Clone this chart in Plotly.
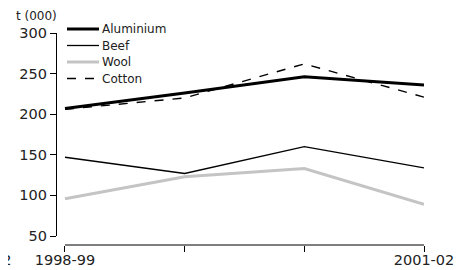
import plotly.graph_objects as go

categories = ["1998-99", "1999-00", "2000-01", "2001-02"]
tick_labels = ["1998-99", "", "", "2001-02"]
y_ticks = [50, 100, 150, 200, 250, 300]
series_names = ["Aluminium", "Beef", "Wool", "Cotton"]
aluminium = [207, 226, 246, 236]
beef = [147, 127, 160, 134]
wool = [96, 123, 133, 89]
cotton = [206, 220, 262, 221]

styles = {
    "Aluminium": dict(color="black", width=3),
    "Beef": dict(color="black", width=1.3),
    "Wool": dict(color="#c4c4c4", width=3),
    "Cotton": dict(color="black", width=1.4, dash="dash"),
}
values = {"Aluminium": aluminium, "Beef": beef, "Wool": wool, "Cotton": cotton}

x = list(range(len(categories)))
FONT = "DejaVu Sans, Verdana, sans-serif"

# page has an 8px body margin; figure is sized to fit the 465x270 window
W, H = 457, 262
L, R, T, B = 49, 41, 2, 25
PW, PH = W - L - R, H - T - B


def sx(px):  # screen x -> paper fraction
    return (px - 8 - L) / PW


def sy(py):  # screen y -> paper fraction
    return (H - B - (py - 8)) / PH


fig = go.Figure()
for name in series_names:
    fig.add_trace(go.Scatter(x=x, y=values[name], name=name, mode="lines",
                             line=styles[name], showlegend=False))

fig.update_layout(
    width=W, height=H,
    margin=dict(l=L, r=R, t=T, b=B, autoexpand=False),
    paper_bgcolor="white", plot_bgcolor="white",
    font=dict(family=FONT, size=14.5, color="#222"),
    showlegend=False,
    xaxis=dict(range=[-0.0667, 3], tickvals=x, ticktext=tick_labels,
               showgrid=False, zeroline=False, showline=False,
               ticks="outside", ticklen=6, tickcolor="black", tickwidth=1.2,
               anchor="free", position=0, automargin=False, ticklabelstandoff=-4),
    yaxis=dict(range=[50, 300], domain=[sy(236), sy(33)], tickvals=y_ticks,
               showgrid=False, zeroline=False, showline=True, linecolor="black", linewidth=1.2,
               ticks="outside", ticklen=6, tickcolor="black", tickwidth=1.2, automargin=False),
)
# detached x axis line spanning first to last category
fig.add_shape(type="line", xref="x", yref="paper", x0=0, x1=3, y0=0, y1=0,
              line=dict(color="black", width=1.2))

# manual legend
leg_y = [29, 45.5, 62, 78.5]
for name, yy in zip(series_names, leg_y):
    fig.add_shape(type="line", xref="paper", yref="paper", x0=sx(67), x1=sx(99),
                  y0=sy(yy), y1=sy(yy), line=styles[name])
    fig.add_annotation(text=name, xref="paper", yref="paper", x=sx(100), y=sy(yy),
                       xanchor="left", yanchor="middle", showarrow=False,
                       font=dict(size=12))

fig.add_annotation(text="t (000)", xref="paper", yref="paper", x=sx(14), y=sy(16),
                   xanchor="left", yanchor="middle", showarrow=False, font=dict(size=12))
fig.add_annotation(text="2001-02", xref="paper", yref="paper", x=sx(14), y=sy(260),
                   xanchor="right", yanchor="middle", showarrow=False, font=dict(size=14.5))

fig.write_html("out.html")
